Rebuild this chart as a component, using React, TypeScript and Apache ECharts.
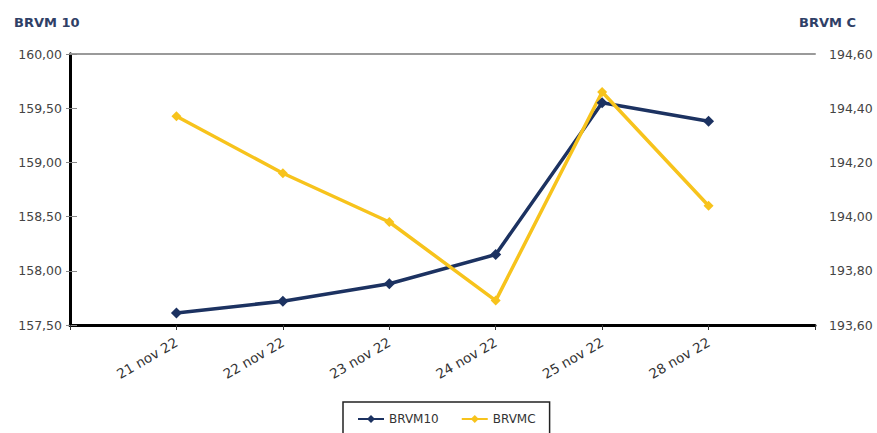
import React, { useEffect, useRef } from "react";
import * as echarts from "echarts";

const categories = ["21 nov 22", "22 nov 22", "23 nov 22", "24 nov 22", "25 nov 22", "28 nov 22"];
const brvm10 = [157.61, 157.72, 157.88, 158.15, 159.55, 159.38];
const brvmc = [194.37, 194.16, 193.98, 193.69, 194.46, 194.04];
const leftAxis = { min: 157.5, max: 160, interval: 0.5 };
const rightAxis = { min: 193.6, max: 194.6, interval: 0.2 };

const FONT = "DejaVu Sans";
const fmt = (v: number) => v.toFixed(2).replace(".", ",");

export default function App() {
  const ref = useRef<HTMLDivElement>(null);
  useEffect(() => {
    document.body.style.margin = "0";
    const chart = echarts.init(ref.current!, undefined, { renderer: "svg" });
    chart.setOption({
      animation: false,
      backgroundColor: "#ffffff",
      textStyle: { fontFamily: FONT },
      title: [
        { text: "BRVM 10", left: 9, top: 11, textStyle: { fontSize: 13, fontWeight: "bold", color: "#2f4066", fontFamily: FONT } },
        { text: "BRVM C", left: 794, top: 11, textStyle: { fontSize: 13, fontWeight: "bold", color: "#2f4066", fontFamily: FONT } },
      ],
      grid: { left: 70, right: 62, top: 54, bottom: 108, containLabel: false },
      legend: {
        left: 343,
        top: 402,
        orient: "horizontal",
        borderColor: "#222",
        borderWidth: 1.5,
        padding: [11, 14, 10, 14],
        itemWidth: 26,
        itemHeight: 10,
        itemGap: 22,
        textStyle: { fontSize: 12, color: "#333", fontFamily: FONT },
        data: ["BRVM10", "BRVMC"],
      },
      xAxis: [
        {
          type: "value",
          min: 0,
          max: categories.length + 1,
          interval: 1,
          position: "bottom",
          axisLine: { show: true, lineStyle: { color: "#000", width: 3 } },
          axisTick: { show: true, length: 5, lineStyle: { color: "#333", width: 1 } },
          splitLine: { show: false },
          axisLabel: {
            rotate: 30,
            margin: 16,
            fontSize: 13.5,
            color: "#333",
            fontFamily: FONT,
            formatter: (v: number) => categories[v - 1] ?? "",
          },
        },
        {
          type: "value",
          min: 0,
          max: categories.length + 1,
          interval: 1,
          position: "top",
          axisLine: { show: true, lineStyle: { color: "#9a9a9a", width: 2 } },
          axisTick: { show: false },
          axisLabel: { show: false },
          splitLine: { show: false },
        },
      ],
      yAxis: [
        {
          type: "value",
          position: "left",
          ...leftAxis,
          axisLine: { show: true, lineStyle: { color: "#000", width: 3 } },
          axisTick: { show: true, length: 4, lineStyle: { color: "#888" } },
          splitLine: { show: false },
          axisLabel: { margin: 8, fontSize: 12.5, color: "#444", fontFamily: FONT, formatter: fmt },
        },
        {
          type: "value",
          position: "right",
          ...rightAxis,
          axisLine: { show: true, lineStyle: { color: "#000", width: 3 } },
          axisTick: { show: true, length: 7, lineStyle: { color: "#888" } },
          splitLine: { show: false },
          axisLabel: { margin: 14, fontSize: 12.5, color: "#444", fontFamily: FONT, formatter: fmt },
        },
      ],
      series: [
        {
          name: "BRVM10",
          type: "line",
          xAxisIndex: 0,
          yAxisIndex: 0,
          data: categories.map((_, i) => [i + 1, brvm10[i]]),
          symbol: "diamond",
          symbolSize: 11,
          lineStyle: { color: "#1c3261", width: 3.5 },
          itemStyle: { color: "#1c3261" },
        },
        {
          name: "BRVMC",
          type: "line",
          xAxisIndex: 0,
          yAxisIndex: 1,
          data: categories.map((_, i) => [i + 1, brvmc[i]]),
          symbol: "diamond",
          symbolSize: 10,
          lineStyle: { color: "#f7c31c", width: 3.5 },
          itemStyle: { color: "#f7c31c" },
        },
      ],
    });
    return () => chart.dispose();
  }, []);
  return <div ref={ref} style={{ width: 877, height: 433 }} />;
}
